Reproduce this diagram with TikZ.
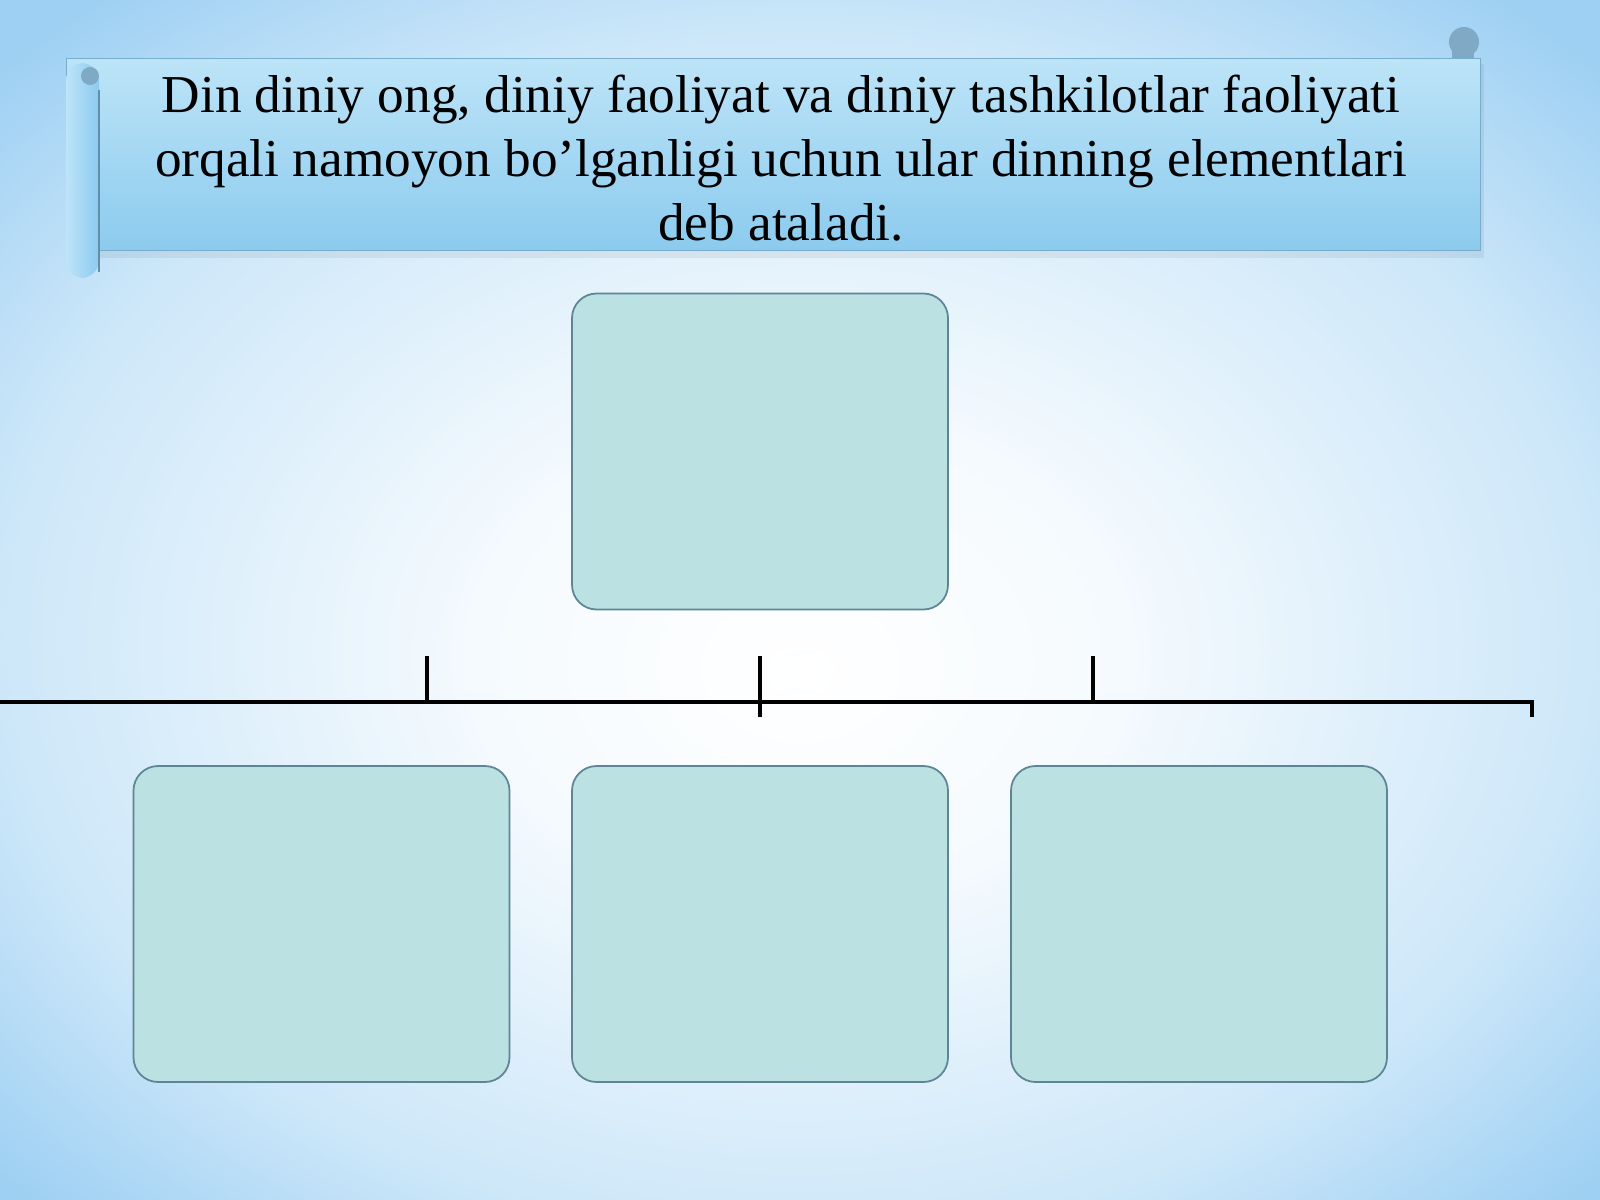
\documentclass[tikz,border=0pt]{standalone}
\usepackage{fontspec}
\setmainfont{Liberation Serif}
\usepackage{tikz}
\usetikzlibrary{calc,shapes,backgrounds,positioning}
\definecolor{bgblue}{HTML}{CDE7F9}
\definecolor{bgdeep}{HTML}{9ED0F3}
\definecolor{scrolltop}{HTML}{BDE4F8}
\definecolor{scrollbot}{HTML}{8CCBEE}
\definecolor{curl}{HTML}{7FA9C4}
\definecolor{boxfill}{HTML}{BCE1E3}
\definecolor{boxline}{HTML}{5E8595}
\pgfdeclareradialshading{bgshade}{\pgfpoint{0bp}{-3bp}}{color(0bp)=(white);
	color(10bp)=(white!80!bgblue); color(25bp)=(bgblue); color(34bp)=(bgdeep); color(50bp)=(bgdeep)}

\begin{document}
\begin{tikzpicture}[x=0.01cm,y=-0.01cm,
		elem/.style={draw=boxline,line width=0.5pt,fill=boxfill,rounded corners=7pt,
			minimum width=376*0.01cm,minimum height=316*0.01cm,inner sep=0pt},
		bar/.style={line width=1.4pt,black},
		title/.style={align=center,font=\fontsize{15.15}{18.2}\selectfont}]
			\useasboundingbox (0,0) rectangle (1600,1200);
			\shade[shading=bgshade] (0,0) rectangle (1600,1200);
			% scroll
			\fill[black,opacity=0.06] (72,64) rectangle (1484,258);
			\shade[top color=scrolltop,bottom color=scrollbot,draw=scrollbot!85!black,line width=0.2pt]
			(66,58) rectangle (1480,250);
			\shade[left color=scrolltop,right color=scrollbot,rounded corners=5pt]
			(66,63) rectangle (99,278);
			\draw[scrollbot!70!black,line width=0.3pt] (99,90) -- (99,272);
			\fill[curl] (90,76) circle (9);
			\fill[curl] (1464,42) circle (15);
			\fill[curl] (1452,44) rectangle (1474,58);
			\node[title] (txt) at (781,158)
			{Din diniy ong, diniy faoliyat va diniy tashkilotlar faoliyati\\
				orqali namoyon bo’lganligi uchun ular dinning elementlari\\
				deb ataladi.};
			% boxes
			\node[elem] (top) at (760,451.5) {};
			\foreach \x/\n in {321.5/left,760/mid,1199/right}
			\node[elem] (\n) at (\x,924) {};
			% line
			\coordinate (l0) at (0,702);
			\coordinate (l1) at (1532,702);
			\coordinate (l2) at (1532,717);
			\draw[bar] (l0) -- (l1) -- (l2);
			\foreach \x in {427,760,1093}
			\draw[bar] (\x,656) -- (\x,702);
			\draw[bar] (760,702) -- (760,717);
		\end{tikzpicture}
\end{document}
